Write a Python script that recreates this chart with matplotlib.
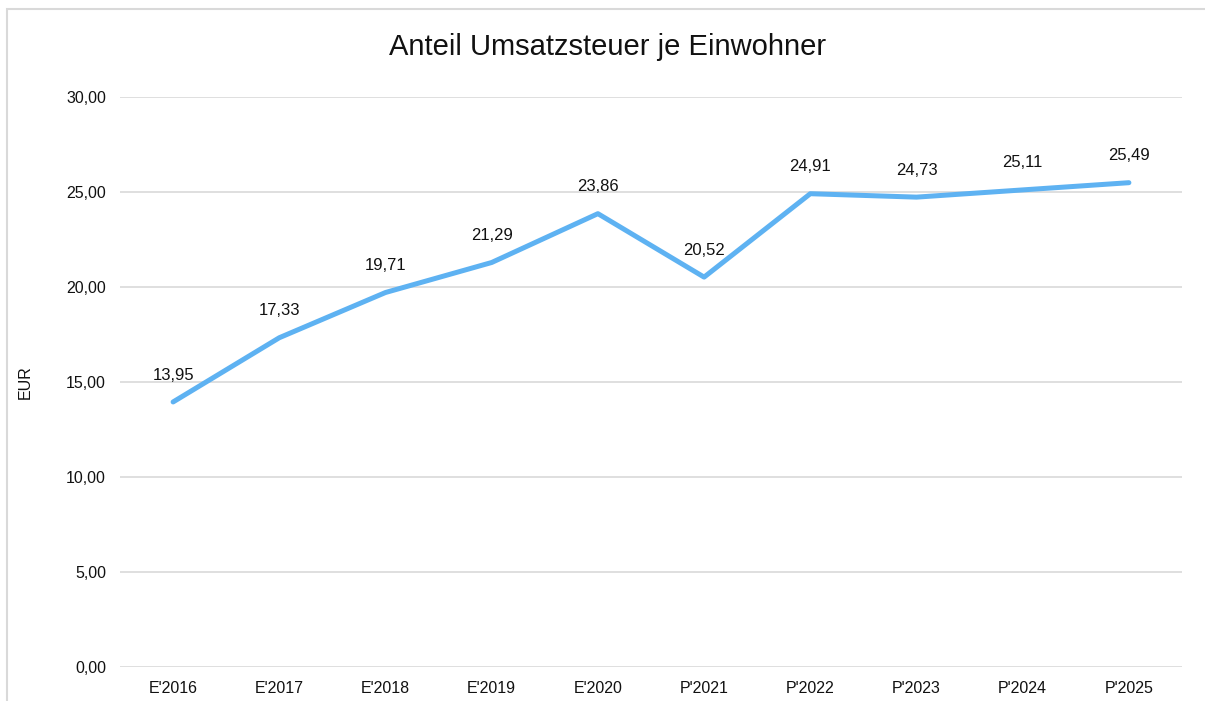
import matplotlib
matplotlib.use("Agg")
import matplotlib.pyplot as plt
from matplotlib.patches import Rectangle

plt.rcParams['font.family'] = ['Liberation Sans', 'DejaVu Sans']

# Daten
jahre = ["E'2016", "E'2017", "E'2018", "E'2019", "E'2020",
         "P'2021", "P'2022", "P'2023", "P'2024", "P'2025"]
werte = [13.95, 17.33, 19.71, 21.29, 23.86, 20.52, 24.91, 24.73, 25.11, 25.49]
yticks = [0, 5, 10, 15, 20, 25, 30]


def de(v):
    # deutsches Zahlenformat
    return f"{v:.2f}".replace(".", ",")


def main():
    fig = plt.figure(figsize=(12.05, 7.01), dpi=100)
    ax = fig.add_axes([120 / 1205, 1 - 667 / 701, 1062 / 1205, 570 / 701])

    x = list(range(len(jahre)))
    ax.plot(x, werte, color="#5eb2f2", lw=3.6, solid_capstyle="round", zorder=3)

    for xi, v in zip(x, werte):
        ax.annotate(de(v), (xi, v), xytext=(0, 14), textcoords="offset points",
                    ha="center", va="bottom", fontsize=12, color="#111111")

    ax.set_xlim(-0.5, len(jahre) - 0.5)
    ax.set_ylim(0, 30)
    ax.set_yticks(yticks)
    ax.set_yticklabels([de(t) for t in yticks])
    ax.set_xticks(x)
    ax.set_xticklabels(jahre)
    ax.tick_params(length=0, labelsize=11.5, colors="#111111")
    ax.tick_params(axis="y", pad=10)
    ax.tick_params(axis="x", pad=10)
    ax.grid(axis="y", color="#d9d9d9", lw=1.2)
    ax.set_axisbelow(True)
    for s in ax.spines.values():
        s.set_visible(False)

    ax.set_ylabel("EUR", fontsize=11.5, color="#111111", labelpad=24)
    fig.text(608 / 1205, 1 - 47 / 701, "Anteil Umsatzsteuer je Einwohner",
             ha="center", va="center", fontsize=21, color="#111111")

    # Rahmen
    fig.patches.append(Rectangle((7 / 1205, -0.1), 1.2, 1 - 9 / 701 + 0.1,
                                 transform=fig.transFigure, fill=False,
                                 edgecolor="#d9d9d9", lw=1.5))

    fig.savefig("out.png", dpi=100)


if __name__ == "__main__":
    main()
